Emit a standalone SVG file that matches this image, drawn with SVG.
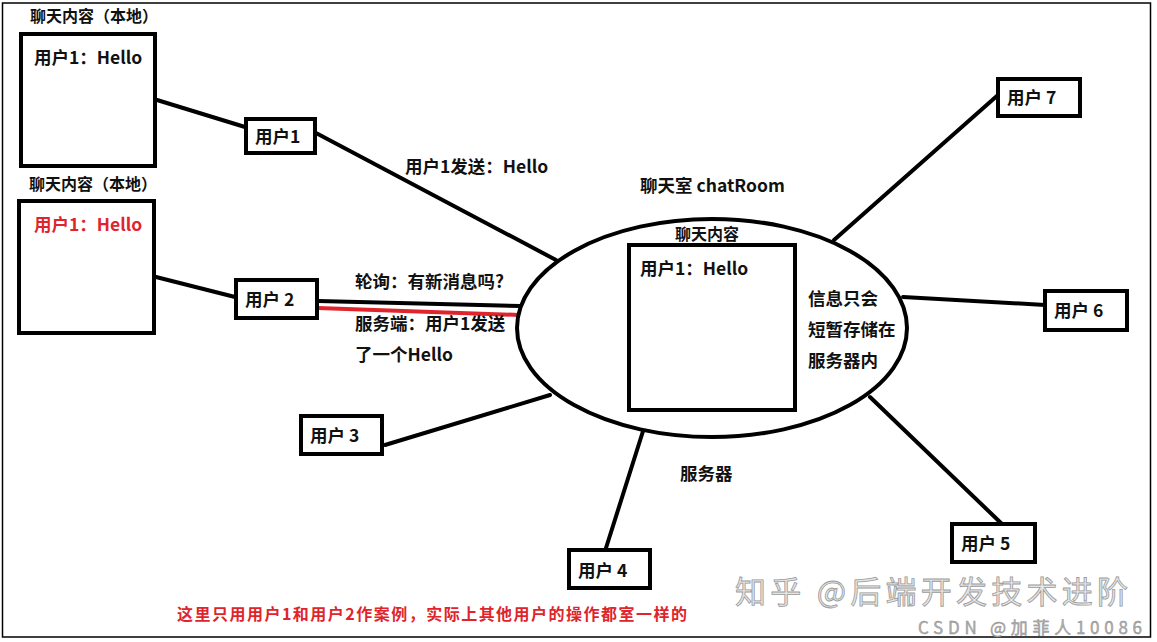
<svg xmlns="http://www.w3.org/2000/svg" width="1157" height="642" viewBox="0 0 1157 642">
<style>
text{font-family:"Microsoft YaHei","Noto Sans CJK SC","Noto Sans",sans-serif;font-weight:bold;fill:#111;}
.t16{font-size:16px;}
.t17{font-size:17.5px;}
.red{fill:#e0242c;}
.box{fill:#fff;stroke:#000;stroke-width:4;}
.ln{stroke:#000;stroke-width:4;fill:none;stroke-linecap:round;}
.wm{font-weight:normal;fill:#e6e6e6;stroke:#9a9a9a;stroke-width:0.8;}
</style>
<rect x="0" y="0" width="1157" height="642" fill="#fff"/>
<rect x="2.5" y="3" width="1148" height="634" fill="none" stroke="#000" stroke-width="1.5"/>

<g id="connectors">
  <line class="ln" x1="157" y1="100" x2="245" y2="127"/>
  <line class="ln" x1="156" y1="277" x2="235" y2="297"/>
  <line class="ln" x1="316" y1="133" x2="556" y2="260"/>
  <line class="ln" x1="318" y1="301" x2="520" y2="306"/>
  <line x1="318" y1="308" x2="519" y2="315" stroke="#e0242c" stroke-width="4"/>
  <line class="ln" x1="834" y1="240" x2="998" y2="95"/>
  <line class="ln" x1="903" y1="297" x2="1045" y2="305"/>
  <line class="ln" x1="870" y1="397" x2="1002" y2="524"/>
  <line class="ln" x1="644" y1="428" x2="606" y2="548"/>
  <line class="ln" x1="550" y1="395" x2="385" y2="445"/>
</g>

<g id="local1">
  <text class="t16" x="30" y="22">聊天内容（本地）</text>
  <rect class="box" x="21" y="34" width="134" height="132"/>
  <text class="t17" x="34" y="64">用户1：Hello</text>
</g>

<g id="local2">
  <text class="t16" x="29" y="190">聊天内容（本地）</text>
  <rect class="box" x="19" y="201" width="135" height="132"/>
  <text class="t17 red" x="34" y="231">用户1：Hello</text>
</g>

<g id="user1">
  <rect class="box" x="246" y="119" width="69" height="34"/>
  <text class="t17" x="255" y="143">用户1</text>
</g>
<g id="user2">
  <rect class="box" x="236" y="280" width="81" height="38"/>
  <text class="t17" x="245" y="306">用户 2</text>
</g>
<g id="user3">
  <rect class="box" x="301" y="416" width="81" height="38"/>
  <text class="t17" x="310" y="442">用户 3</text>
</g>
<g id="user4">
  <rect class="box" x="569" y="550" width="81" height="38"/>
  <text class="t17" x="578" y="577">用户 4</text>
</g>
<g id="user5">
  <rect class="box" x="952" y="524" width="83" height="38"/>
  <text class="t17" x="961" y="550">用户 5</text>
</g>
<g id="user6">
  <rect class="box" x="1045" y="291" width="82" height="39"/>
  <text class="t17" x="1054" y="317">用户 6</text>
</g>
<g id="user7">
  <rect class="box" x="998" y="79" width="82" height="37"/>
  <text class="t17" x="1007" y="104">用户 7</text>
</g>

<g id="server">
  <text class="t17" x="640" y="192">聊天室 chatRoom</text>
  <ellipse cx="712" cy="328" rx="195" ry="109" fill="#fff" stroke="#000" stroke-width="4"/>
  <text class="t16" x="675" y="240">聊天内容</text>
  <rect class="box" x="629" y="245" width="166" height="165"/>
  <text class="t17" x="640" y="275">用户1：Hello</text>
  <text class="t17" x="808" y="305">信息只会</text>
  <text class="t17" x="808" y="336">短暂存储在</text>
  <text class="t17" x="808" y="367">服务器内</text>
  <text class="t17" x="680" y="480">服务器</text>
</g>

<g id="labels">
  <text class="t17" x="405" y="173">用户1发送：Hello</text>
  <text class="t17" x="355" y="288">轮询：有新消息吗?</text>
  <text class="t17" x="355" y="330">服务端：用户1发送</text>
  <text class="t17" x="355" y="361">了一个Hello</text>
  <text class="t16 red" x="177" y="620" textLength="510">这里只用用户1和用户2作案例，实际上其他用户的操作都室一样的</text>
</g>

<g id="watermark">
  <text class="wm" x="735" y="603" font-size="31" textLength="393">知乎 @后端开发技术进阶</text>
  <text class="wm" x="918" y="634" font-size="17" style="fill:#b0b0b0;stroke:#888;stroke-width:0.4" textLength="224">CSDN @加菲人10086</text>
</g>
</svg>
